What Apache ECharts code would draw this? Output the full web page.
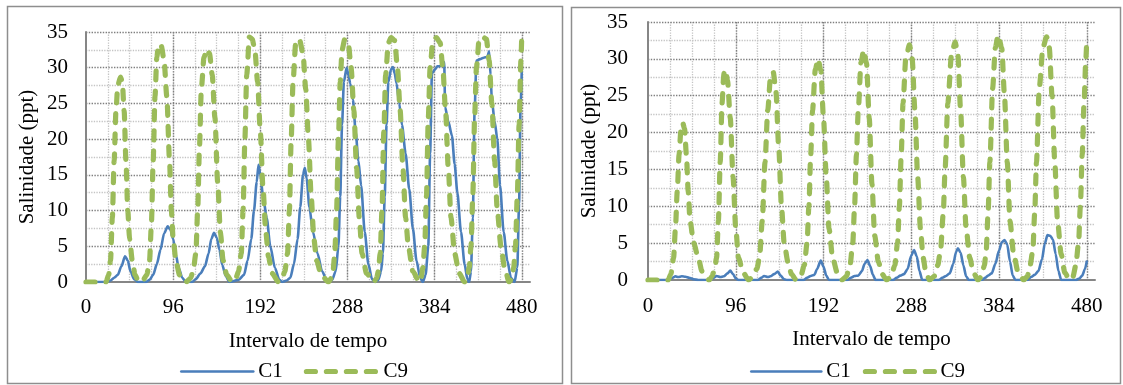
<!DOCTYPE html>
<html>
<head>
<meta charset="utf-8">
<script src="https://cdn.jsdelivr.net/npm/echarts@6/dist/echarts.min.js"></script>
<style>
  html, body { margin: 0; padding: 0; background: #ffffff; }
  #chart { width: 1123px; height: 385px; }
</style>
</head>
<body>
<div id="chart"></div>
<script>
// Series names, axis titles and axis ranges
const seriesNames = ['C1', 'C9'];
const yAxisTitle = 'Salinidade (ppt)';
const xAxisTitle = 'Intervalo de tempo';
const xMax = 489;          // the axis runs a little past the last labelled tick
const xMajorStep = 96;     // labelled ticks: 0, 96, ..., 480
const xMinorStep = 24;
const yMax = 35;
const yStep = 5;

// Left panel: salinity at C1 and C9 ([time step, ppt])
const leftC1 = [
  [0,0],[22,0],[27,0.2],[31,0.6],[35,1],[39,2.2],[43,3.6],[46,3],[49,1.5],[53,0.4],[57,0],
  [66,0],[70,0.3],[74,1],[78,2.5],[82,4.5],[86,6.8],[90,7.8],[93,7.3],[96,6],[99,3.8],[102,2],[106,0.6],[110,0],
  [117,0],[121,0.4],[126,1.2],[131,2.2],[135,4],[138,6],[141,6.9],[144,6.2],[147,4.5],[150,2.4],[154,0.8],[158,0],
  [168,0.3],[174,1],[178,3],[182,6],[185,10],[188,14],[190,16.4],[192,15],[195,12],[199,9],[203,5],[208,2],[213,0.3],[216,0],
  [221,0.2],[225,0.6],[229,2.5],[233,6],[236,10.5],[239,15],[241,16],[243,14.5],[246,10.5],[250,7],[255,4],[260,1.5],[266,0],
  [271,0.3],[275,1.5],[278,5],[280,12],[282,22],[284,28],[287,30],[289,29],[291,27.8],[294,25.5],[297,21],[300,17],[303,13.5],[307,7],[311,2.5],[315,0.4],[318,0],
  [322,0.3],[325,1.5],[327,4],[329,12],[331,22],[333,28],[336,29.8],[338,30.1],[340,29.2],[342,27.8],[345,25],[348,22],[352,18],[356,13],[360,7.5],[364,3],[368,0.6],[371,0],
  [374,1],[377,5],[379,18],[381,29.2],[384,29.7],[387,30.2],[390,30.2],[393,30.6],[394.5,30.8],[395.5,24.5],[399,22.5],[403,20.5],[406,16.5],[409,12.5],[413,7],[417,2.5],[420,0.4],[422,0],
  [424,1.5],[426,9],[428,24],[430,31],[434,31.2],[438,31.4],[442,31.5],[444,32.3],[445.5,29],[447,25.5],[450,22.5],[453,20],[456,13.5],[460,7],[464,3],[468,0.6],[472,0],
  [475,2],[477,11],[478.5,24],[480,30]
];
const leftC9 = [
  [0,0],[22,0],[25,1],[27,3],[29,9],[31,17],[33,24],[35,27.5],[38,28.7],[40,28],[42,24],[44,17],[46,10],[48,6],[51,3],[54,1],[58,0],
  [63,0.3],[67,1],[70,3],[72,8],[74,17],[76,26],[78,31.5],[80,33.3],[83,33],[86,31],[89,26],[92,17],[94,10],[96,6],[99,3],[103,1],[110,0],
  [115,0.5],[118,1.5],[121,4],[123,10],[125,19],[127,27],[130,31.5],[133,32.6],[136,32],[139,29],[142,23],[145,14],[148,7],[151,3],[155,1],[161,0],
  [165,0.5],[168,1.5],[171,4],[173,10],[175,20],[177,29],[180,34.3],[183,34],[186,32.5],[189,28],[192,21],[195,13],[198,7],[201,3.5],[205,1.2],[212,0],
  [216,0.5],[219,1.5],[222,4],[224,10],[226,20],[228,28],[231,33.5],[235,34],[239,32],[242,27],[245,20],[248,12],[251,6],[254,3],[259,1],[267,0],
  [270,0.5],[272,1.5],[274,4],[276,10],[278,20],[280,28],[282,32.5],[285,34],[289,33.3],[292,30],[295,24],[298,16],[301,9],[304,4],[309,1.2],[317,0],
  [320,0.5],[322,1.5],[324,4],[326,10],[328,21],[330,29],[333,33.5],[336,34.2],[340,33.8],[343,30],[346,24],[349,16],[352,9],[355,5],[360,1.5],[367,0],
  [369,0.5],[371,2],[373,5],[375,12],[377,23],[379,30],[382,33.8],[386,34.2],[390,33.5],[393,30],[396,24],[399,16],[402,9],[406,4],[411,1.2],[417,0],
  [420,0.5],[422,2],[424,5],[426,12],[428,23],[430,30],[433,34],[437,34.3],[441,34],[444,31],[447,25],[450,17],[453,10],[457,5],[461,2],[466,0],
  [469,0.5],[471,2],[473,5],[475,12],[477,22],[479,31],[480,35]
];

// Right panel: salinity at C1 and C9 ([time step, ppt])
const rightC1 = [
  [0,0],[22,0],[27,0.3],[30,0.5],[33,0.4],[37,0.5],[41,0.45],[45,0.3],[50,0.1],[55,0],
  [68,0],[72,0.3],[75,0.55],[79,0.4],[83,0.5],[87,0.9],[90,1.27],[93,0.8],[96,0.2],[99,0],
  [120,0],[124,0.3],[127,0.55],[131,0.4],[134,0.5],[138,0.8],[142,1.13],[145,0.6],[149,0.1],[152,0],
  [170,0],[174,0.3],[178,0.55],[182,0.7],[185,1.5],[189,2.63],[192,1.8],[195,0.6],[198,0],
  [218,0],[222,0.3],[226,0.55],[230,0.6],[234,1.2],[237,2.2],[240,2.7],[243,1.9],[246,0.7],[249,0],
  [268,0],[272,0.3],[276,0.6],[280,0.8],[284,1.5],[288,3.3],[291,4.07],[294,3.2],[297,1.2],[300,0],
  [318,0],[322,0.3],[326,0.55],[330,0.9],[334,2.2],[337,3.8],[339,4.3],[342,3.7],[345,2],[348,0.5],[351,0],
  [365,0],[369,0.3],[372,0.6],[376,0.9],[380,2.2],[384,4],[387,5.1],[390,5.43],[393,4.8],[396,2.5],[399,0.6],[402,0],
  [415,0],[419,0.4],[423,0.7],[427,1.2],[431,2.8],[434,4.9],[437,6.1],[440,6],[443,5.5],[446,3.5],[449,1.2],[452,0],
  [468,0],[472,0.2],[475,0.6],[478,1.5],[480,2.5]
];
const rightC9 = [
  [0,0],[22,0],[25,0.8],[28,3],[30,7],[32,12],[34,17],[36,20.3],[38,21.3],[40,20.5],[42,17],[44,12],[46,8],[50,5],[55,3],[59,1.2],[64,0.2],[67,0],
  [70,0.5],[73,1.5],[75,3],[77,8],[79,16],[81,24],[83,28],[85,28.5],[87,27],[90,22],[93,14],[96,7],[99,3],[104,1],[110,0],
  [115,0.5],[119,1.5],[122,3],[125,8],[128,16],[131,23],[134,27.5],[137,28.2],[140,25.5],[143,18],[146,10],[149,5],[153,2.5],[157,0.8],[162,0],
  [167,0.5],[171,2],[174,5],[176,10],[178,17],[180,23],[183,28.5],[186,30],[189,28.5],[192,22],[195,14],[198,7],[202,3],[207,1],[212,0],
  [217,0.5],[221,2],[224,5],[226,10],[228,17],[230,23],[233,29.5],[236,31.2],[239,29.5],[242,22],[245,13],[248,6],[252,2.5],[256,0.8],[261,0],
  [266,0.5],[270,2],[273,5],[275,10],[277,17],[279,24],[282,30],[286,31.9],[289,30],[292,23],[295,14],[298,7],[301,3],[304,1],[308,0],
  [313,0.5],[317,2],[320,4],[323,9],[325,15],[328,24],[332,30.5],[336,32.3],[339,30.5],[342,23],[345,14],[348,7],[352,3],[356,1],[361,0],
  [365,0.5],[368,2],[370,4],[372,9],[374,16],[377,26],[380,31.5],[383,33.2],[387,31.5],[390,25],[393,16],[396,8],[400,3.5],[405,1],[411,0],
  [415,0.5],[418,2],[421,4],[423,9],[425,16],[428,26],[432,31.5],[436,33],[439,31.5],[442,25],[445,16],[448,8],[452,3.5],[456,1],[461,0],
  [465,0.5],[468,2],[471,5],[473,10],[475,17],[477,24],[479,30],[480,32.6]
];

// Styling
const FONT = 'Liberation Serif';
const TEXT = { fontFamily: FONT, fontSize: 21, color: '#000000' };
const AXIS_LINE = { color: '#868686', width: 2 };
const MAJOR_GRID = { type: 'dotted', color: '#7f7f7f', width: 1.4 };
const MINOR_GRID = { type: 'dotted', color: '#c4c4c4', width: 1.3 };
const C1_STYLE = { color: '#4a7ebb', width: 2.6, cap: 'round', join: 'round' };
const C9_STYLE = { color: '#9bbb59', width: 5.2, type: [9, 11], cap: 'round', join: 'round' };

const panels = [
  {
    grid: { left: 86, top: 32, width: 444, height: 250 },
    yLabelMargin: 18, xLabelMargin: 15, yNameGap: 48, xNameGap: 49,
    legend: { left: 180, top: 361, itemWidth: 72, itemGap: 21 },
    border: { x: 7, y: 6, width: 555, height: 377 },
    c1: leftC1, c9: leftC9
  },
  {
    grid: { left: 648, top: 22, width: 447, height: 258 },
    yLabelMargin: 20, xLabelMargin: 16, yNameGap: 48, xNameGap: 49,
    legend: { left: 750, top: 361, itemWidth: 70, itemGap: 12 },
    border: { x: 571, y: 7, width: 549, height: 376 },
    c1: rightC1, c9: rightC9
  }
];

const grid = [], xAxis = [], yAxis = [], series = [], legend = [], graphic = [];

panels.forEach((p, i) => {
  grid.push(Object.assign({ containLabel: false }, p.grid));

  // labelled axis with the darker gridlines every 96 steps
  xAxis.push({
    type: 'value', gridIndex: i, min: 0, max: xMax, interval: xMajorStep,
    axisLine: { show: true, onZero: false, lineStyle: AXIS_LINE },
    axisTick: { show: false },
    axisLabel: Object.assign({
      margin: p.xLabelMargin, showMaxLabel: false,
      formatter: v => (v % xMajorStep === 0 ? String(v) : '')
    }, TEXT),
    splitLine: { show: true, showMinLine: false, showMaxLine: false, lineStyle: MAJOR_GRID },
    name: xAxisTitle, nameLocation: 'middle', nameGap: p.xNameGap, nameTextStyle: TEXT
  });
  // helper axis carrying only the lighter gridlines every 24 steps
  xAxis.push({
    type: 'value', gridIndex: i, min: 0, max: xMax, interval: xMinorStep,
    axisLine: { show: false }, axisTick: { show: false }, axisLabel: { show: false },
    splitLine: { show: true, showMinLine: false, showMaxLine: false, lineStyle: MINOR_GRID },
    z: -1
  });

  yAxis.push({
    type: 'value', gridIndex: i, min: 0, max: yMax, interval: yStep,
    axisLine: { show: true, onZero: false, lineStyle: AXIS_LINE },
    axisTick: { show: false },
    axisLabel: Object.assign({ margin: p.yLabelMargin }, TEXT),
    splitLine: { show: true, showMinLine: false, lineStyle: MAJOR_GRID },
    minorTick: { show: false, splitNumber: 2 },
    minorSplitLine: { show: true, lineStyle: MINOR_GRID },
    name: yAxisTitle, nameLocation: 'middle', nameRotate: 90, nameGap: p.yNameGap,
    nameTextStyle: TEXT
  });

  series.push({
    name: seriesNames[0], type: 'line', xAxisIndex: 2 * i, yAxisIndex: i,
    data: p.c1, symbol: 'none', showSymbol: false, smooth: 0.25, smoothMonotone: 'x',
    lineStyle: C1_STYLE, itemStyle: { color: C1_STYLE.color }, z: 3
  });
  series.push({
    name: seriesNames[1], type: 'line', xAxisIndex: 2 * i, yAxisIndex: i,
    data: p.c9, symbol: 'none', showSymbol: false, smooth: 0.25, smoothMonotone: 'x',
    lineStyle: C9_STYLE, itemStyle: { color: C9_STYLE.color }, z: 4
  });

  legend.push({
    data: [
      { name: seriesNames[0], lineStyle: { width: C1_STYLE.width } },
      { name: seriesNames[1], lineStyle: { width: C9_STYLE.width } }
    ],
    left: p.legend.left, top: p.legend.top,
    itemWidth: p.legend.itemWidth, itemHeight: 14, itemGap: p.legend.itemGap,
    selectedMode: false, padding: 0,
    textStyle: TEXT, itemStyle: { opacity: 0 }
  });

  graphic.push({
    type: 'rect', silent: true, z: 100,
    shape: { x: p.border.x + 0.5, y: p.border.y + 0.5, width: p.border.width, height: p.border.height },
    style: { fill: null, stroke: '#8e8e8e', lineWidth: 1.5 }
  });
});

const chart = echarts.init(document.getElementById('chart'), null, { renderer: 'canvas' });
chart.setOption({
  animation: false,
  backgroundColor: '#ffffff',
  grid, xAxis, yAxis, series, legend, graphic
});
</script>
</body>
</html>
